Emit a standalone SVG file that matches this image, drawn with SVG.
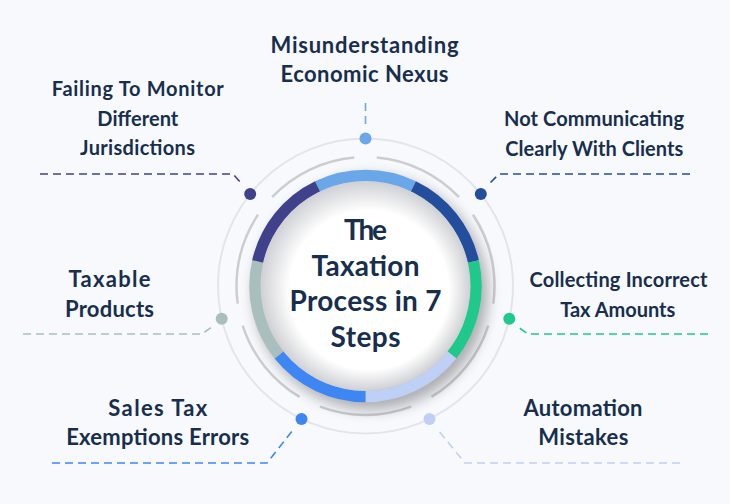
<svg xmlns="http://www.w3.org/2000/svg" width="730" height="504" viewBox="0 0 730 504">
<defs>
<style>
.lbl{font-family:Lato,"Liberation Sans",sans-serif;font-weight:700;fill:#172f4d;text-anchor:middle}
.s22{font-size:22px}
.s20{font-size:20px}
.ttl{font-size:28px}
.con{fill:none;stroke-width:1.6;stroke-dasharray:8 5}
.seg{fill:none;stroke-width:11.5}
</style>
<filter id="sh" x="-40%" y="-40%" width="180%" height="180%"><feGaussianBlur stdDeviation="7"/></filter>
<radialGradient id="disc" cx="0.5" cy="0.5" r="0.5" fx="0.57" fy="0.58">
<stop offset="0" stop-color="#ffffff"/>
<stop offset="0.76" stop-color="#ffffff"/>
<stop offset="1" stop-color="#cfd0d4"/>
</radialGradient>
</defs>
<rect width="730" height="504" fill="#f8f9fd"/>
<g id="rings">
<circle cx="365.5" cy="286" r="147.5" fill="none" stroke="#e3e5ea" stroke-width="2"/>
<circle cx="365.5" cy="286" r="129" fill="none" stroke="#cbcdd1" stroke-width="2.5" pathLength="360" stroke-dasharray="41.43 10" stroke-dashoffset="33.57"/>
</g>
<g id="center">
<circle cx="371" cy="293" r="117" fill="#000" opacity="0.3" filter="url(#sh)"/>
<path class="seg" stroke="#6aa6ea" d="M317.56,186.44 A110.5,110.5 0 0 1 413.44,186.44"/>
<path class="seg" stroke="#234e9d" d="M413.44,186.44 A110.5,110.5 0 0 1 473.23,261.41"/>
<path class="seg" stroke="#1ec98b" d="M473.23,261.41 A110.5,110.5 0 0 1 451.89,354.90"/>
<path class="seg" stroke="#bed0f5" d="M451.89,354.90 A110.5,110.5 0 0 1 365.5,396.5"/>
<path class="seg" stroke="#3d86f3" d="M365.5,396.5 A110.5,110.5 0 0 1 279.11,354.90"/>
<path class="seg" stroke="#a8bfbd" d="M279.11,354.90 A110.5,110.5 0 0 1 257.77,261.41"/>
<path class="seg" stroke="#40418d" d="M257.77,261.41 A110.5,110.5 0 0 1 317.56,186.44"/>
<circle cx="365.5" cy="286" r="105" fill="url(#disc)"/>
<text class="lbl ttl"><tspan x="365.5" y="240" textLength="43" lengthAdjust="spacing">The</tspan><tspan x="365.5" y="275.5" textLength="108" lengthAdjust="spacing">Taxation</tspan><tspan x="365.5" y="311" textLength="152" lengthAdjust="spacing">Process in 7</tspan><tspan x="365.5" y="346.5" textLength="70" lengthAdjust="spacing">Steps</tspan></text>
</g>
<g id="connectors">
<path class="con" stroke="#6aa6ea" d="M365.5,103 V126"/>
<path class="con" stroke="#40418d" d="M40,174 H233 L242,184"/>
<path class="con" stroke="#234e9d" d="M690,174 H499 L489,184"/>
<path class="con" stroke="#a8bfbd" d="M23,334 H202 L213,326"/>
<path class="con" stroke="#1ec98b" d="M708,334 H528 L518,327"/>
<path class="con" stroke="#3d86f3" d="M52,463 H267 L293,430"/>
<path class="con" stroke="#bed0f5" d="M680,463 H465 L438,430"/>
</g>
<g id="node-1">
<circle cx="365.5" cy="138.5" r="6" fill="#6aa6ea"/>
<text class="lbl s22"><tspan x="364.5" y="53.3" textLength="188" lengthAdjust="spacing">Misunderstanding</tspan><tspan x="364.5" y="81.7" textLength="168" lengthAdjust="spacing">Economic Nexus</tspan></text>
</g>
<g id="node-2">
<circle cx="480.8" cy="194" r="6" fill="#234e9d"/>
<text class="lbl s20"><tspan x="594" y="125.7" textLength="180" lengthAdjust="spacing">Not Communicating</tspan><tspan x="594.3" y="156" textLength="178" lengthAdjust="spacing">Clearly With Clients</tspan></text>
</g>
<g id="node-3">
<circle cx="509.3" cy="318.8" r="6" fill="#1ec98b"/>
<text class="lbl s20"><tspan x="618.5" y="286.7" textLength="178" lengthAdjust="spacing">Collecting Incorrect</tspan><tspan x="617.7" y="316.7" textLength="115" lengthAdjust="spacing">Tax Amounts</tspan></text>
</g>
<g id="node-4">
<circle cx="429.5" cy="418.9" r="6" fill="#bed0f5"/>
<text class="lbl s22"><tspan x="583" y="416" textLength="119" lengthAdjust="spacing">Automation</tspan><tspan x="583.3" y="445" textLength="90" lengthAdjust="spacing">Mistakes</tspan></text>
</g>
<g id="node-5">
<circle cx="301.5" cy="418.9" r="6" fill="#3d86f3"/>
<text class="lbl s22"><tspan x="157.8" y="416" textLength="99" lengthAdjust="spacing">Sales Tax</tspan><tspan x="157.7" y="445" textLength="183" lengthAdjust="spacing">Exemptions Errors</tspan></text>
</g>
<g id="node-6">
<circle cx="221.7" cy="318.8" r="6" fill="#a8bfbd"/>
<text class="lbl s22"><tspan x="109.5" y="286.7" textLength="82" lengthAdjust="spacing">Taxable</tspan><tspan x="109.5" y="316.7" textLength="89" lengthAdjust="spacing">Products</tspan></text>
</g>
<g id="node-7">
<circle cx="250.2" cy="194" r="6" fill="#40418d"/>
<text class="lbl s20"><tspan x="137.8" y="96" textLength="172" lengthAdjust="spacing">Failing To Monitor</tspan><tspan x="137.8" y="125.7" textLength="81" lengthAdjust="spacing">Different</tspan><tspan x="137.5" y="155" textLength="115" lengthAdjust="spacing">Jurisdictions</tspan></text>
</g>
</svg>
